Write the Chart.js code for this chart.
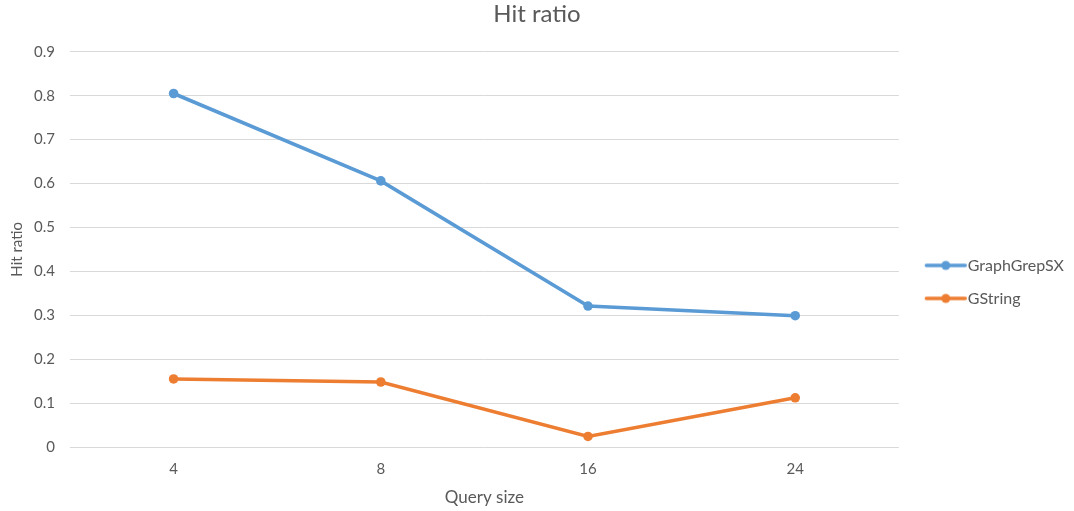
<!DOCTYPE html>
<html>
<head>
<meta charset="utf-8">
<script src="https://cdn.jsdelivr.net/npm/chart.js@4/dist/chart.umd.min.js"></script>
<style>
  html, body { margin: 0; padding: 0; background: #ffffff; }
  #wrap { width: 1074px; height: 511px; }
</style>
</head>
<body>
<div id="wrap"><canvas id="chart" width="1074" height="511"></canvas></div>
<script>
// Query sizes (x categories)
const querySizes = ['4', '8', '16', '24'];
// Hit ratio per query size
const graphGrepSX = [0.805, 0.606, 0.321, 0.299];
const gString = [0.155, 0.148, 0.024, 0.112];
const seriesNames = ['GraphGrepSX', 'GString'];
const seriesColors = ['#5B9BD5', '#ED7D31'];

const textColor = '#595959';
const fontFamily = "Lato, 'Open Sans', 'DejaVu Sans', sans-serif";

// Legend marker: a short line with a dot in the middle
function legendIcon(color) {
  const c = document.createElement('canvas');
  c.width = 80; c.height = 12;
  const g = c.getContext('2d');
  const x0 = 28.5, x1 = 67.5, cy = 6;
  g.strokeStyle = color;
  g.lineWidth = 3.4;
  g.lineCap = 'round';
  g.beginPath();
  g.moveTo(x0, cy);
  g.lineTo(x1, cy);
  g.stroke();
  g.fillStyle = color;
  g.beginPath();
  g.arc((x0 + x1) / 2, cy, 4.5, 0, Math.PI * 2);
  g.fill();
  return c;
}
const icons = seriesColors.map(legendIcon);

const ctx = document.getElementById('chart').getContext('2d');
new Chart(ctx, {
  type: 'line',
  data: {
    labels: querySizes,
    datasets: [
      {
        label: seriesNames[0],
        data: graphGrepSX,
        borderColor: seriesColors[0],
        backgroundColor: seriesColors[0],
        borderWidth: 3.6,
        pointRadius: 4.8,
        pointBorderWidth: 0,
        tension: 0
      },
      {
        label: seriesNames[1],
        data: gString,
        borderColor: seriesColors[1],
        backgroundColor: seriesColors[1],
        borderWidth: 3.6,
        pointRadius: 4.8,
        pointBorderWidth: 0,
        tension: 0
      }
    ]
  },
  options: {
    responsive: false,
    animation: false,
    devicePixelRatio: 1,
    layout: { padding: { left: 0, right: 0, top: 0, bottom: 0 } },
    plugins: {
      title: {
        display: true,
        text: 'Hit ratio',
        color: textColor,
        font: { family: fontFamily, size: 24, weight: 'normal' },
        padding: { top: 0, bottom: 23 }
      },
      legend: {
        display: true,
        position: 'right',
        align: 'start',
        title: {
          display: true,
          text: '',
          font: { family: fontFamily, size: 12 },
          padding: { top: 226, bottom: 0 }
        },
        labels: {
          usePointStyle: true,
          pointStyleWidth: 44,
          padding: 17,
          color: textColor,
          font: { family: fontFamily, size: 16 },
          generateLabels(chart) {
            const items = Chart.defaults.plugins.legend.labels.generateLabels(chart);
            items.forEach((it, i) => { it.pointStyle = icons[i]; });
            return items;
          }
        }
      },
      tooltip: { enabled: false }
    },
    scales: {
      x: {
        type: 'category',
        offset: true,
        grid: { display: false, drawTicks: false },
        border: { display: false },
        ticks: {
          color: textColor,
          font: { family: fontFamily, size: 15 },
          padding: 13
        },
        title: {
          display: true,
          text: 'Query size',
          color: textColor,
          font: { family: fontFamily, size: 17 },
          padding: { top: 12, bottom: 3 }
        },
        afterFit(scale) { scale.height = 64; }
      },
      y: {
        min: 0,
        max: 0.9,
        grid: { color: '#d9d9d9', lineWidth: 1, drawTicks: false },
        border: { display: false },
        ticks: {
          stepSize: 0.1,
          color: textColor,
          font: { family: fontFamily, size: 15 },
          padding: 15
        },
        title: {
          display: true,
          text: 'Hit ratio',
          color: textColor,
          font: { family: fontFamily, size: 15 },
          padding: { top: 8, bottom: 7 }
        },
        afterFit(scale) { scale.width = 70; }
      }
    }
  }
});
</script>
</body>
</html>
